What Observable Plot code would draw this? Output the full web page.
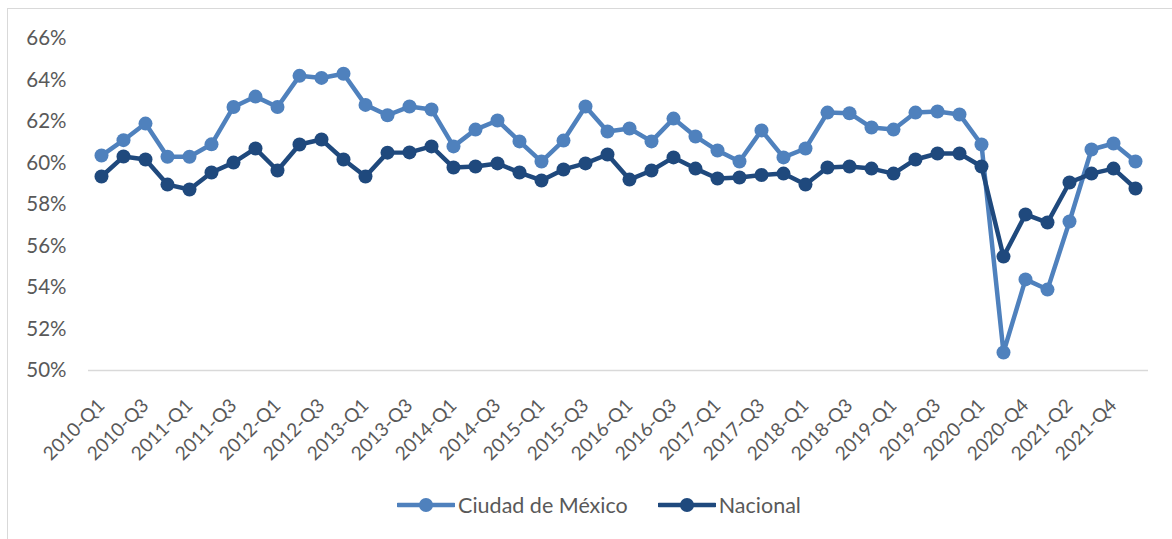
<!DOCTYPE html>
<html>
<head>
<meta charset="utf-8">
<script src="https://cdn.jsdelivr.net/npm/d3@7"></script>
<script src="https://cdn.jsdelivr.net/npm/@observablehq/plot@0.6"></script>
<style>
  html, body { margin: 0; padding: 0; background: #fff; }
  #frame { position: absolute; left: 7px; top: 8px; width: 1200px; height: 560px; border-left: 1.5px solid #d9d9d9; border-top: 1.5px solid #d9d9d9; }
  #chart { position: absolute; left: 0; top: 0; }
  #legend { position: absolute; left: 0; top: 492px; width: 1172px; display: flex; justify-content: center; gap: 30px; font-family: Lato, sans-serif; font-size: 21.5px; color: #595959; padding-left: 26px; box-sizing: border-box; }
  .item { display: flex; align-items: center; gap: 3px; }
</style>
</head>
<body>
<div id="frame"></div>
<div id="chart"></div>
<div id="legend"></div>
<script>
const quarters = [
  "2010-Q1","2010-Q2","2010-Q3","2010-Q4",
  "2011-Q1","2011-Q2","2011-Q3","2011-Q4",
  "2012-Q1","2012-Q2","2012-Q3","2012-Q4",
  "2013-Q1","2013-Q2","2013-Q3","2013-Q4",
  "2014-Q1","2014-Q2","2014-Q3","2014-Q4",
  "2015-Q1","2015-Q2","2015-Q3","2015-Q4",
  "2016-Q1","2016-Q2","2016-Q3","2016-Q4",
  "2017-Q1","2017-Q2","2017-Q3","2017-Q4",
  "2018-Q1","2018-Q2","2018-Q3","2018-Q4",
  "2019-Q1","2019-Q2","2019-Q3","2019-Q4",
  "2020-Q1","2020-Q3","2020-Q4",
  "2021-Q1","2021-Q2","2021-Q3","2021-Q4",
  "2022-Q1"
];
const tickLabels = ["2010-Q1","2010-Q3","2011-Q1","2011-Q3","2012-Q1","2012-Q3","2013-Q1","2013-Q3","2014-Q1","2014-Q3","2015-Q1","2015-Q3","2016-Q1","2016-Q3","2017-Q1","2017-Q3","2018-Q1","2018-Q3","2019-Q1","2019-Q3","2020-Q1","2020-Q4","2021-Q2","2021-Q4"];
const cdmx = [
  60.36, 61.1, 61.9, 60.3, 60.3, 60.9, 62.7, 63.2, 62.7, 64.2, 64.1, 64.3,
  62.8, 62.3, 62.72, 62.58, 60.8, 61.61, 62.05, 61.04, 60.07, 61.08, 62.72, 61.52,
  61.66, 61.04, 62.14, 61.28, 60.6, 60.07, 61.57, 60.27, 60.7, 62.43, 62.4, 61.71,
  61.61, 62.43, 62.48, 62.34, 60.89, 50.87, 54.39, 53.9, 57.18, 60.65, 60.94, 60.07
];
const nacional = [
  59.35, 60.31, 60.17, 58.96, 58.72, 59.54, 60.02, 60.7, 59.64, 60.89, 61.13, 60.17,
  59.35, 60.5, 60.51, 60.8, 59.78, 59.83, 59.98, 59.54, 59.16, 59.69, 59.98, 60.41,
  59.2, 59.64, 60.27, 59.73, 59.25, 59.3, 59.42, 59.49, 58.96, 59.78, 59.83, 59.73,
  59.49, 60.17, 60.46, 60.46, 59.83, 55.49, 57.52, 57.13, 59.06, 59.49, 59.73, 58.77
];
const seriesNames = ["Ciudad de México", "Nacional"];
const seriesColors = ["#4f81bd", "#1f497d"];
const yTicks = [0.50, 0.52, 0.54, 0.56, 0.58, 0.60, 0.62, 0.64, 0.66];

const dataC = quarters.map((q, i) => ({q, v: cdmx[i] / 100}));
const dataN = quarters.map((q, i) => ({q, v: nacional[i] / 100}));

const chart = Plot.plot({
  width: 1172,
  height: 470,
  marginLeft: 88,
  marginRight: 24,
  marginTop: 38,
  marginBottom: 100,
  style: {fontFamily: "Lato, sans-serif", fontSize: "19px", color: "#595959", background: "transparent", overflow: "visible"},
  x: {type: "point", domain: quarters, padding: 0.5, label: null, ticks: tickLabels, tickRotate: -45, tickSize: 0, tickPadding: 24},
  y: {domain: [0.5, 0.66], label: null, ticks: yTicks, tickFormat: d => Math.round(d * 100) + "%", tickSize: 0, tickPadding: 22},
  marks: [
    Plot.ruleY([0.5], {stroke: "#d9d9d9", strokeWidth: 1.5}),
    Plot.line(dataC, {x: "q", y: "v", stroke: seriesColors[0], strokeWidth: 4.5}),
    Plot.dot(dataC, {x: "q", y: "v", fill: seriesColors[0], r: 7, stroke: null}),
    Plot.line(dataN, {x: "q", y: "v", stroke: seriesColors[1], strokeWidth: 4.5}),
    Plot.dot(dataN, {x: "q", y: "v", fill: seriesColors[1], r: 7, stroke: null})
  ]
});
d3.select(chart).selectAll('[aria-label="y-axis tick label"]').attr("font-size", 20.5);
d3.select(chart).selectAll('[aria-label="x-axis tick label"]').attr("font-size", 19)
  .attr("transform", function() { const t = this.getAttribute("transform") || ""; return "translate(0,8) " + t; });
document.getElementById("chart").appendChild(chart);

const legend = document.getElementById("legend");
seriesNames.forEach((name, i) => {
  const item = document.createElement("div");
  item.className = "item";
  item.innerHTML = `<svg width="58" height="20"><line x1="1" x2="57" y1="10" y2="10" stroke="${seriesColors[i]}" stroke-width="4.5" stroke-linecap="round"/><circle cx="29" cy="10" r="7" fill="${seriesColors[i]}"/></svg><span>${name}</span>`;
  legend.appendChild(item);
});
</script>
</body>
</html>
